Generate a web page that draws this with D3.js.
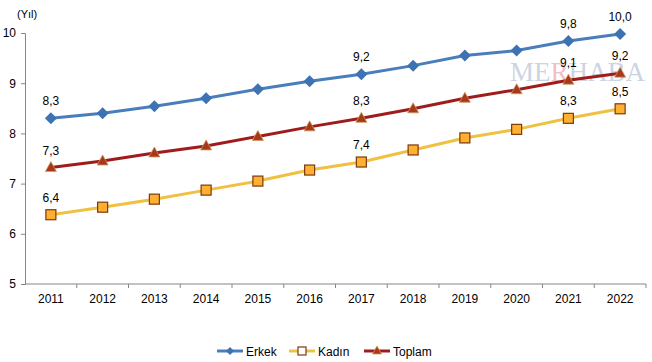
<!DOCTYPE html>
<html>
<head>
<meta charset="utf-8">
<script src="https://cdn.jsdelivr.net/npm/d3@7"></script>
<style>
  body { margin: 0; background: #fff; }
  svg { font-family: "Liberation Sans", Arial, sans-serif; }
</style>
</head>
<body>
<div id="chart"></div>
<script>
const years = ["2011", "2012", "2013", "2014", "2015", "2016", "2017", "2018", "2019", "2020", "2021", "2022"];
const erkek = [8.30, 8.40, 8.54, 8.70, 8.88, 9.04, 9.18, 9.35, 9.55, 9.65, 9.84, 9.98];
const kadin = [6.38, 6.53, 6.69, 6.87, 7.05, 7.27, 7.43, 7.67, 7.91, 8.08, 8.30, 8.49];
const toplam = [7.32, 7.45, 7.61, 7.75, 7.94, 8.13, 8.30, 8.49, 8.70, 8.87, 9.06, 9.20];
const yTicks = [5, 6, 7, 8, 9, 10];
const labelIdx = [0, 6, 10, 11];

const width = 652, height = 362;
const margin = {top: 33, right: 6, bottom: 78, left: 25};

const svg = d3.select("#chart")
  .append("svg")
  .attr("width", width)
  .attr("height", height);

const x = d3.scaleBand()
  .domain(years)
  .range([margin.left, width - margin.right]);

const y = d3.scaleLinear()
  .domain([5, 10])
  .range([height - margin.bottom, margin.top]);

const fmt = d3.formatLocale({decimal: ",", thousands: ".", grouping: [3], currency: ["", ""]}).format(".1f");

// axes
const axisColor = "#868686";
const yAxis = svg.append("g")
  .attr("transform", `translate(${margin.left},0)`)
  .call(d3.axisLeft(y).tickValues(yTicks).tickSize(4).tickPadding(5).tickFormat(d3.format("d")));
const xAxis = svg.append("g")
  .attr("transform", `translate(0,${height - margin.bottom})`)
  .call(d3.axisBottom(x).tickSize(0).tickPadding(10));

[yAxis, xAxis].forEach(g => {
  g.selectAll("path").attr("stroke", axisColor);
  g.selectAll("line").attr("stroke", axisColor);
  g.selectAll("text").attr("fill", "#000").attr("font-size", "12px")
    .attr("font-family", "Liberation Sans, Arial, sans-serif");
});
xAxis.select(".domain").attr("d", `M${margin.left},0H${width - margin.right}`);

// x ticks between categories
xAxis.selectAll(".sep")
  .data(years.slice(1).concat(["end"]))
  .enter()
  .append("line")
  .attr("x1", (d, i) => margin.left + x.bandwidth() * (i + 1))
  .attr("x2", (d, i) => margin.left + x.bandwidth() * (i + 1))
  .attr("y1", 0)
  .attr("y2", 4)
  .attr("stroke", axisColor);

svg.append("text")
  .attr("x", 17)
  .attr("y", 18)
  .attr("font-size", "11px")
  .text("(Yıl)");

// watermark
const wm = svg.append("text")
  .attr("x", 510)
  .attr("y", 81)
  .attr("font-family", "Liberation Serif, Times New Roman, serif")
  .attr("font-size", "27px")
  .attr("opacity", 0.4);
wm.append("tspan").attr("fill", "#7f96b8").text("ME");
wm.append("tspan").attr("fill", "#e06070").text("R");
wm.append("tspan").attr("fill", "#7f96b8").text("HABA");

const series = [
  {name: "Erkek", values: erkek, color: "#4a7ebb", marker: "diamond", fill: "#3d73b3", stroke: "#3d73b3"},
  {name: "Kadın", values: kadin, color: "#f0c040", marker: "square", fill: "#ffb030", stroke: "#7a3a10"},
  {name: "Toplam", values: toplam, color: "#a01c1c", marker: "triangle", fill: "#a8381a", stroke: "#c89a60"}
];

const cx = d => x(d) + x.bandwidth() / 2;

function drawMarker(g, type, px, py, s) {
  if (type === "diamond") {
    g.append("path")
      .attr("d", `M${px},${py - 6}L${px + 6},${py}L${px},${py + 6}L${px - 6},${py}Z`)
      .attr("fill", s.fill);
  } else if (type === "square") {
    g.append("rect")
      .attr("x", px - 5).attr("y", py - 5)
      .attr("width", 10).attr("height", 10)
      .attr("fill", s.fill).attr("stroke", s.stroke).attr("stroke-width", 1.2);
  } else {
    g.append("path")
      .attr("d", `M${px},${py - 6}L${px + 5.5},${py + 4}L${px - 5.5},${py + 4}Z`)
      .attr("fill", s.fill).attr("stroke", s.stroke).attr("stroke-width", 0.8);
  }
}

const line = d3.line()
  .x((d, i) => cx(years[i]))
  .y(d => y(d));

series.forEach(s => {
  svg.append("path")
    .datum(s.values)
    .attr("d", line)
    .attr("fill", "none")
    .attr("stroke", s.color)
    .attr("stroke-width", 3);
  const g = svg.append("g");
  s.values.forEach((v, i) => drawMarker(g, s.marker, cx(years[i]), y(v), s));
  svg.append("g")
    .selectAll("text")
    .data(labelIdx)
    .enter()
    .append("text")
    .attr("x", i => cx(years[i]))
    .attr("y", i => y(s.values[i]) - 13)
    .attr("text-anchor", "middle")
    .attr("font-size", "12px")
    .attr("fill", "#000")
    .text(i => fmt(s.values[i]));
});

// legend
const legendX = [217, 289, 364];
const legend = svg.append("g");
series.forEach((s, i) => {
  const lx = legendX[i], ly = 351;
  legend.append("line")
    .attr("x1", lx).attr("x2", lx + 26)
    .attr("y1", ly).attr("y2", ly)
    .attr("stroke", s.color).attr("stroke-width", 3);
  const mg = legend.append("g");
  if (s.marker === "diamond") {
    mg.append("path").attr("d", `M${lx + 13},${ly - 4}L${lx + 17},${ly}L${lx + 13},${ly + 4}L${lx + 9},${ly}Z`).attr("fill", s.fill);
  } else if (s.marker === "square") {
    mg.append("rect").attr("x", lx + 9).attr("y", ly - 4).attr("width", 8).attr("height", 8)
      .attr("fill", "#fff").attr("stroke", s.stroke).attr("stroke-width", 1.2);
  } else {
    mg.append("path").attr("d", `M${lx + 13},${ly - 5}L${lx + 17.5},${ly + 3}L${lx + 8.5},${ly + 3}Z`)
      .attr("fill", s.fill).attr("stroke", s.stroke).attr("stroke-width", 0.8);
  }
  legend.append("text")
    .attr("x", lx + 29).attr("y", ly + 4.5)
    .attr("font-size", "12px")
    .text(s.name);
});
</script>
</body>
</html>
